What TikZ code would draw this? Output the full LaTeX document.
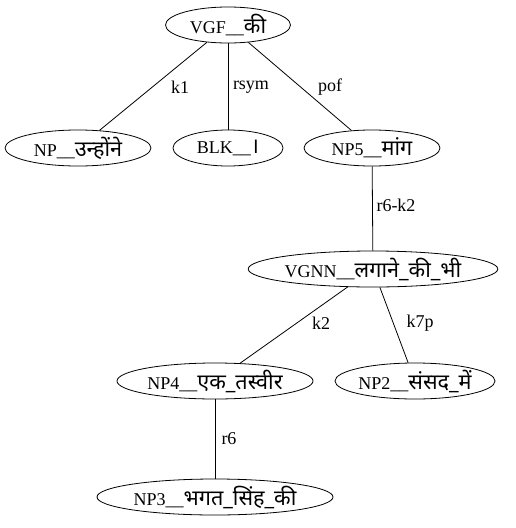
\documentclass[tikz,border=0pt]{standalone}
\usepackage{fontspec}
\setmainfont{Liberation Serif}
\newfontfamily\dev[Script=Devanagari,Scale=1.2]{Noto Sans}
\usetikzlibrary{shapes.geometric}
\begin{document}
\begin{tikzpicture}[x=1pt,y=-1pt,
  nd/.style={draw,line width=0.8pt,ellipse,inner sep=0pt,minimum height=36pt,font=\fontsize{18}{20}\selectfont},
  lbl/.style={inner sep=0pt,font=\fontsize{18}{20}\selectfont},
  conn/.style={draw,line width=0.8pt}]
\useasboundingbox (0,0) rectangle (515,528);
\node[nd,minimum width=125pt] (vgf) at (228,25) {VGF\_\_{\dev की}};
\node[nd,minimum width=146pt] (np) at (78,148) {NP\_\_{\dev उन्होंने}};
\node[nd,minimum width=110pt] (blk) at (228,148) {BLK\_\_{\dev ।}};
\node[nd,minimum width=136pt] (np5) at (372,148) {NP5\_\_{\dev मांग}};
\node[nd,minimum width=242pt] (vgnn) at (373,269) {VGNN\_\_{\dev लगाने\_की\_भी}};
\node[nd,minimum width=196pt] (np4) at (215,381) {NP4\_\_{\dev एक\_तस्वीर}};
\node[nd,minimum width=155pt] (np2) at (415,381) {NP2\_\_{\dev संसद\_में}};
\node[nd,minimum width=236pt] (np3) at (215,497) {NP3\_\_{\dev भगत\_सिंह\_की}};
\draw[conn] (vgf) -- (np);
\draw[conn] (vgf) -- (blk);
\draw[conn] (vgf) -- (np5);
\draw[conn] (np5) -- (vgnn);
\draw[conn] (vgnn) -- (np4);
\draw[conn] (vgnn) -- (np2);
\draw[conn] (np4) -- (np3);
\node[lbl] (lk1) at (180,87) {k1};
\node[lbl] (lrsym) at (251,87) {rsym};
\node[lbl] (lpof) at (330,87) {pof};
\node[lbl] (lr6k2) at (396,205) {r6-k2};
\node[lbl] (lk2) at (321,323) {k2};
\node[lbl] (lk7p) at (420,323) {k7p};
\node[lbl] (lr6) at (229,439) {r6};
\end{tikzpicture}
\end{document}
